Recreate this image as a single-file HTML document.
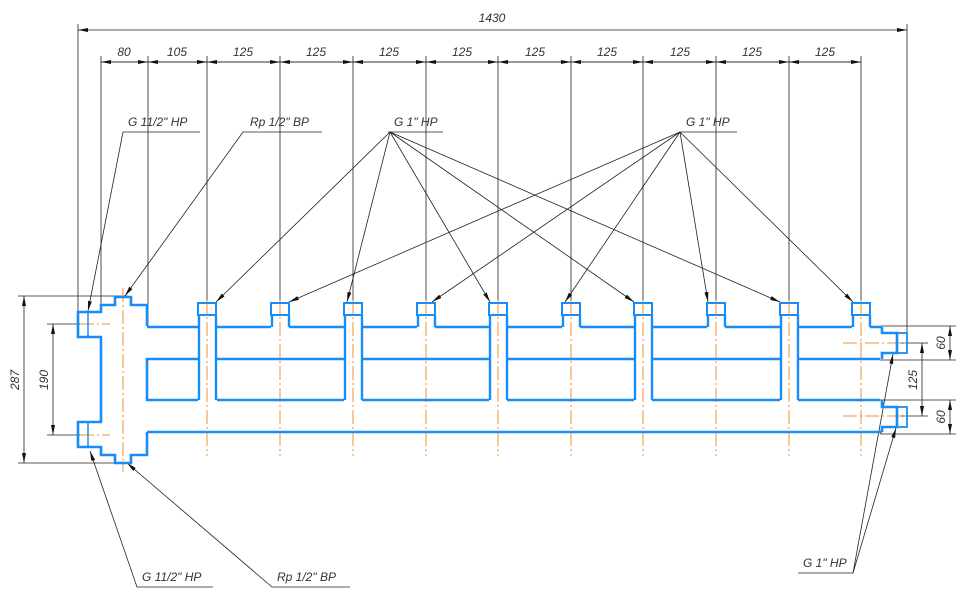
<!DOCTYPE html>
<html><head><meta charset="utf-8"><style>
html,body{margin:0;padding:0;background:#fff;width:970px;height:601px;overflow:hidden}
text{font-family:"Liberation Sans",sans-serif;font-style:italic;font-size:12px;fill:#333}
</style></head><body>
<svg width="970" height="601" viewBox="0 0 970 601" xmlns="http://www.w3.org/2000/svg">
<defs>
<marker id="a" viewBox="0 0 10 4" refX="10" refY="2" markerWidth="10" markerHeight="4" orient="auto" markerUnits="userSpaceOnUse"><path d="M0,0 L10,2 L0,4z" fill="#111"/></marker>
<marker id="b" viewBox="0 0 10 4" refX="0" refY="2" markerWidth="10" markerHeight="4" orient="auto" markerUnits="userSpaceOnUse"><path d="M10,0 L0,2 L10,4z" fill="#111"/></marker>
</defs>
<g stroke="#222" stroke-width="0.8" fill="none">
<!-- top overall dim -->
<line x1="78" y1="30" x2="907" y2="30" marker-start="url(#b)" marker-end="url(#a)"/>
<line x1="78" y1="24" x2="78" y2="320"/>
<line x1="907" y1="24" x2="907" y2="350"/>
<!-- second row -->
<line x1="101" y1="62" x2="861" y2="62"/>
<g id="ext">
<line x1="101" y1="56" x2="101" y2="312"/>
<line x1="148" y1="56" x2="148" y2="326"/>
<line x1="207" y1="56" x2="207" y2="303"/><line x1="280" y1="56" x2="280" y2="303"/>
<line x1="353" y1="56" x2="353" y2="303"/><line x1="426" y1="56" x2="426" y2="303"/>
<line x1="498" y1="56" x2="498" y2="303"/><line x1="571" y1="56" x2="571" y2="303"/>
<line x1="643" y1="56" x2="643" y2="303"/><line x1="716" y1="56" x2="716" y2="303"/>
<line x1="789" y1="56" x2="789" y2="303"/><line x1="861" y1="56" x2="861" y2="303"/>
</g>
<g marker-start="url(#b)" marker-end="url(#a)">
<line x1="101" y1="62" x2="148" y2="62"/><line x1="148" y1="62" x2="207" y2="62"/>
<line x1="207" y1="62" x2="280" y2="62"/><line x1="280" y1="62" x2="353" y2="62"/>
<line x1="353" y1="62" x2="426" y2="62"/><line x1="426" y1="62" x2="498" y2="62"/>
<line x1="498" y1="62" x2="571" y2="62"/><line x1="571" y1="62" x2="643" y2="62"/>
<line x1="643" y1="62" x2="716" y2="62"/><line x1="716" y1="62" x2="789" y2="62"/>
<line x1="789" y1="62" x2="861" y2="62"/>
</g>
<!-- left dims -->
<line x1="18" y1="296" x2="128" y2="296"/><line x1="18" y1="463" x2="128" y2="463"/>
<line x1="24" y1="296" x2="24" y2="463" marker-start="url(#b)" marker-end="url(#a)"/>
<line x1="47" y1="324" x2="80" y2="324"/><line x1="47" y1="435" x2="80" y2="435"/>
<line x1="53" y1="324" x2="53" y2="435" marker-start="url(#b)" marker-end="url(#a)"/>
<!-- right dims -->
<line x1="880" y1="326" x2="956" y2="326"/><line x1="895" y1="343" x2="928" y2="343"/>
<line x1="880" y1="360" x2="956" y2="360"/><line x1="880" y1="400" x2="956" y2="400"/>
<line x1="895" y1="416" x2="928" y2="416"/><line x1="880" y1="434" x2="956" y2="434"/>
<line x1="950" y1="326" x2="950" y2="360" marker-start="url(#b)" marker-end="url(#a)"/>
<line x1="950" y1="400" x2="950" y2="434" marker-start="url(#b)" marker-end="url(#a)"/>
<line x1="922" y1="343" x2="922" y2="416" marker-start="url(#b)" marker-end="url(#a)"/>
<!-- leaders top -->
<polyline points="200,132 123,132 88,311" marker-end="url(#a)"/>
<polyline points="322,132 243,132 125,296" marker-end="url(#a)"/>
<line x1="388" y1="132" x2="443" y2="132"/>
<line x1="680" y1="132" x2="737" y2="132"/>
<g marker-end="url(#a)">
<line x1="390" y1="132" x2="216" y2="302"/><line x1="390" y1="132" x2="347" y2="302"/>
<line x1="390" y1="132" x2="490" y2="302"/><line x1="390" y1="132" x2="634" y2="302"/>
<line x1="390" y1="132" x2="780" y2="302"/>
<line x1="680" y1="132" x2="289" y2="302"/><line x1="680" y1="132" x2="432" y2="302"/>
<line x1="680" y1="132" x2="565" y2="302"/><line x1="680" y1="132" x2="708" y2="302"/>
<line x1="680" y1="132" x2="853" y2="302"/>
</g>
<!-- leaders bottom -->
<polyline points="213,587 137,587 90,451" marker-end="url(#a)"/>
<polyline points="350,587 272,587 127,463" marker-end="url(#a)"/>
<polyline points="798,573 853,573 893,354" marker-end="url(#a)"/>
<line x1="853" y1="573" x2="896" y2="428" marker-end="url(#a)"/>
</g>
<!-- centerlines -->
<g stroke="#f0922e" stroke-width="1" stroke-dasharray="14,3,2,3" fill="none">
<line x1="123" y1="288" x2="123" y2="472"/>
<line x1="207" y1="300" x2="207" y2="456"/><line x1="280" y1="300" x2="280" y2="456"/>
<line x1="353" y1="300" x2="353" y2="456"/><line x1="426" y1="300" x2="426" y2="456"/>
<line x1="498" y1="300" x2="498" y2="456"/><line x1="571" y1="300" x2="571" y2="456"/>
<line x1="643" y1="300" x2="643" y2="456"/><line x1="716" y1="300" x2="716" y2="456"/>
<line x1="789" y1="300" x2="789" y2="456"/><line x1="861" y1="300" x2="861" y2="456"/>
<line x1="80" y1="324" x2="110" y2="324"/><line x1="80" y1="435" x2="110" y2="435"/>
<line x1="843" y1="343" x2="905" y2="343"/><line x1="843" y1="416" x2="905" y2="416"/>
</g>
<!-- body -->
<g stroke="#1a8cf5" stroke-width="2.6" fill="none" stroke-linejoin="miter">
<!-- left header -->
<polyline points="147,326 147,305 131,305 131,297 115,297 115,305 101,305 101,312 78,312 78,337 101,337 101,422 78,422 78,447 101,447 101,455 115,455 115,463 131,463 131,455 147,455 147,432"/>
<line x1="88" y1="312" x2="88" y2="337" stroke-width="1.5"/>
<line x1="88" y1="422" x2="88" y2="447" stroke-width="1.5"/>
<!-- top wall segments -->
<path d="M147,327 H198 M217,327 H271 M289,327 H344 M362,327 H417 M435,327 H489 M507,327 H562 M580,327 H634 M652,327 H707 M725,327 H780 M798,327 H852 M870,327 H882"/>
<!-- bottom wall -->
<path d="M147,432 H882"/>
<!-- middle band -->
<path d="M198,359 H147 V400 H198 M217,359 H344 M217,400 H344 M362,359 H489 M362,400 H489 M507,359 H634 M507,400 H634 M652,359 H780 M652,400 H780 M798,359 H880 M798,400 H880"/>
<!-- right end fittings -->
<polyline points="882,327 882,333 897,333 897,353 882,353 882,359"/>
<polyline points="882,400 882,407 897,407 897,427 882,427 882,432"/>
<rect x="897" y="333" width="10" height="20" stroke-width="1.8"/>
<rect x="897" y="407" width="10" height="20" stroke-width="1.8"/>
</g>
<!-- pipes -->
<g stroke="#1a8cf5" stroke-width="2" fill="none">
<g id="tp"><rect x="198" y="303" width="18" height="12"/><path d="M199,315 V400 M216,315 V400" stroke-width="2.4"/></g>
<use href="#tp" x="146"/><use href="#tp" x="291"/><use href="#tp" x="436"/><use href="#tp" x="582"/>
<g id="sp"><rect x="271" y="303" width="18" height="12"/><path d="M272,315 V327 M289,315 V327" stroke-width="2.4"/></g>
<use href="#sp" x="146"/><use href="#sp" x="291"/><use href="#sp" x="436"/><use href="#sp" x="581"/>
</g>
<!-- texts -->
<text x="492" y="22" text-anchor="middle">1430</text>
<text x="124" y="56" text-anchor="middle">80</text>
<text x="177" y="56" text-anchor="middle">105</text>
<text x="243" y="56" text-anchor="middle">125</text>
<text x="316" y="56" text-anchor="middle">125</text>
<text x="389" y="56" text-anchor="middle">125</text>
<text x="462" y="56" text-anchor="middle">125</text>
<text x="535" y="56" text-anchor="middle">125</text>
<text x="607" y="56" text-anchor="middle">125</text>
<text x="680" y="56" text-anchor="middle">125</text>
<text x="752" y="56" text-anchor="middle">125</text>
<text x="825" y="56" text-anchor="middle">125</text>
<text x="128" y="126">G 11/2" НР</text>
<text x="250" y="126">Rp 1/2" ВР</text>
<text x="394" y="126">G 1" НР</text>
<text x="686" y="126">G 1" НР</text>
<text x="142" y="581">G 11/2" НР</text>
<text x="277" y="581">Rp 1/2" ВР</text>
<text x="803" y="567">G 1" НР</text>
<text transform="translate(19,380) rotate(-90)" text-anchor="middle">287</text>
<text transform="translate(48,380) rotate(-90)" text-anchor="middle">190</text>
<text transform="translate(945,343) rotate(-90)" text-anchor="middle">60</text>
<text transform="translate(945,417) rotate(-90)" text-anchor="middle">60</text>
<text transform="translate(917,380) rotate(-90)" text-anchor="middle">125</text>
</svg>
</body></html>
